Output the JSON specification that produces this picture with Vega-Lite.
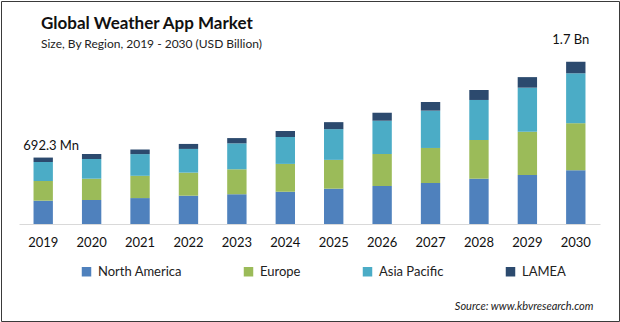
{
  "$schema": "https://vega.github.io/schema/vega-lite/v6.json",
  "width": 618,
  "height": 320,
  "autosize": "none",
  "padding": {"left": 1, "top": 1, "right": 1, "bottom": 1},
  "background": "white",
  "view": {"stroke": "#3a3a3a", "strokeWidth": 1},
  "config": {"font": "Lato"},
  "title": {
    "text": "Global Weather App Market",
    "subtitle": "Size, By Region, 2019 - 2030 (USD Billion)",
    "anchor": "start",
    "frame": "group",
    "orient": "top",
    "offset": -50,
    "dx": 40,
    "fontSize": 17,
    "fontWeight": "bold",
    "color": "#111111",
    "subtitleFontSize": 12,
    "subtitleColor": "#222222",
    "subtitlePadding": 6
  },
  "datasets": {
    "market": [
      {"year": "2019", "region": "North America", "value": 0.243},
      {"year": "2019", "region": "Europe", "value": 0.205},
      {"year": "2019", "region": "Asia Pacific", "value": 0.198},
      {"year": "2019", "region": "LAMEA", "value": 0.046},
      {"year": "2020", "region": "North America", "value": 0.25},
      {"year": "2020", "region": "Europe", "value": 0.222},
      {"year": "2020", "region": "Asia Pacific", "value": 0.205},
      {"year": "2020", "region": "LAMEA", "value": 0.052},
      {"year": "2021", "region": "North America", "value": 0.27},
      {"year": "2021", "region": "Europe", "value": 0.232},
      {"year": "2021", "region": "Asia Pacific", "value": 0.226},
      {"year": "2021", "region": "LAMEA", "value": 0.048},
      {"year": "2022", "region": "North America", "value": 0.295},
      {"year": "2022", "region": "Europe", "value": 0.24},
      {"year": "2022", "region": "Asia Pacific", "value": 0.247},
      {"year": "2022", "region": "LAMEA", "value": 0.052},
      {"year": "2023", "region": "North America", "value": 0.31},
      {"year": "2023", "region": "Europe", "value": 0.26},
      {"year": "2023", "region": "Asia Pacific", "value": 0.27},
      {"year": "2023", "region": "LAMEA", "value": 0.055},
      {"year": "2024", "region": "North America", "value": 0.336},
      {"year": "2024", "region": "Europe", "value": 0.29},
      {"year": "2024", "region": "Asia Pacific", "value": 0.28},
      {"year": "2024", "region": "LAMEA", "value": 0.063},
      {"year": "2025", "region": "North America", "value": 0.368},
      {"year": "2025", "region": "Europe", "value": 0.3},
      {"year": "2025", "region": "Asia Pacific", "value": 0.32},
      {"year": "2025", "region": "LAMEA", "value": 0.073},
      {"year": "2026", "region": "North America", "value": 0.396},
      {"year": "2026", "region": "Europe", "value": 0.333},
      {"year": "2026", "region": "Asia Pacific", "value": 0.347},
      {"year": "2026", "region": "LAMEA", "value": 0.083},
      {"year": "2027", "region": "North America", "value": 0.427},
      {"year": "2027", "region": "Europe", "value": 0.365},
      {"year": "2027", "region": "Asia Pacific", "value": 0.389},
      {"year": "2027", "region": "LAMEA", "value": 0.09},
      {"year": "2028", "region": "North America", "value": 0.472},
      {"year": "2028", "region": "Europe", "value": 0.403},
      {"year": "2028", "region": "Asia Pacific", "value": 0.417},
      {"year": "2028", "region": "LAMEA", "value": 0.104},
      {"year": "2029", "region": "North America", "value": 0.51},
      {"year": "2029", "region": "Europe", "value": 0.45},
      {"year": "2029", "region": "Asia Pacific", "value": 0.46},
      {"year": "2029", "region": "LAMEA", "value": 0.11},
      {"year": "2030", "region": "North America", "value": 0.56},
      {"year": "2030", "region": "Europe", "value": 0.49},
      {"year": "2030", "region": "Asia Pacific", "value": 0.52},
      {"year": "2030", "region": "LAMEA", "value": 0.12}
    ],
    "labels": [
      {"year": "2019", "total": 0.692, "label": "692.3  Mn"},
      {"year": "2030", "total": 1.69, "label": "1.7 Bn"}
    ]
  },
  "layer": [
    {
      "data": {"name": "market"},
      "transform": [
        {"calculate": "indexof(['North America', 'Europe', 'Asia Pacific', 'LAMEA'], datum.region)", "as": "stackOrder"}
      ],
      "mark": {"type": "bar"},
      "encoding": {
        "x": {
          "field": "year",
          "type": "ordinal",
          "scale": {"range": [18, 599], "paddingInner": 0.6, "paddingOuter": 0.3},
          "axis": {
            "orient": "bottom",
            "offset": -97,
            "labelAngle": 0,
            "ticks": false,
            "labelPadding": 12,
            "labelFontSize": 13,
            "labelColor": "#111111",
            "domainColor": "#d9d9d9",
            "domainWidth": 1,
            "grid": false,
            "title": "Source: www.kbvresearch.com",
            "titleFontStyle": "italic",
            "titleFontWeight": "normal",
            "titleFontSize": 11,
            "titleColor": "#222222",
            "titleAlign": "right",
            "titleBaseline": "alphabetic",
            "titleX": 592,
            "titleY": 85
          }
        },
        "y": {
          "field": "value",
          "type": "quantitative",
          "stack": "zero",
          "scale": {"domain": [0, 1.7], "range": [223, 59.8], "nice": false},
          "axis": null
        },
        "color": {
          "field": "region",
          "type": "nominal",
          "sort": ["North America", "Europe", "Asia Pacific", "LAMEA"],
          "scale": {
            "domain": ["North America", "Europe", "Asia Pacific", "LAMEA"],
            "range": ["#4F81BD", "#9BBB59", "#4BACC6", "#2C4A6E"]
          },
          "legend": {
            "orient": "none",
            "legendX": 79,
            "legendY": 264,
            "direction": "horizontal",
            "title": null,
            "symbolType": "square",
            "symbolSize": 90,
            "symbolStrokeWidth": 0,
            "labelFontSize": 13,
            "labelColor": "#222222",
            "labelOffset": 5,
            "columnPadding": 60
          }
        },
        "order": {"field": "stackOrder", "type": "quantitative", "sort": "ascending"}
      }
    },
    {
      "data": {"name": "labels"},
      "transform": [{"filter": "datum.year == '2019'"}],
      "mark": {"type": "text", "dy": -8, "dx": 8, "fontSize": 13, "color": "#111111", "baseline": "alphabetic"},
      "encoding": {
        "x": {"field": "year", "type": "ordinal"},
        "y": {"field": "total", "type": "quantitative"},
        "text": {"field": "label"}
      }
    },
    {
      "data": {"name": "labels"},
      "transform": [{"filter": "datum.year == '2030'"}],
      "mark": {"type": "text", "dy": -18, "dx": -5, "fontSize": 13, "color": "#111111", "baseline": "alphabetic"},
      "encoding": {
        "x": {"field": "year", "type": "ordinal"},
        "y": {"field": "total", "type": "quantitative"},
        "text": {"field": "label"}
      }
    }
  ]
}
